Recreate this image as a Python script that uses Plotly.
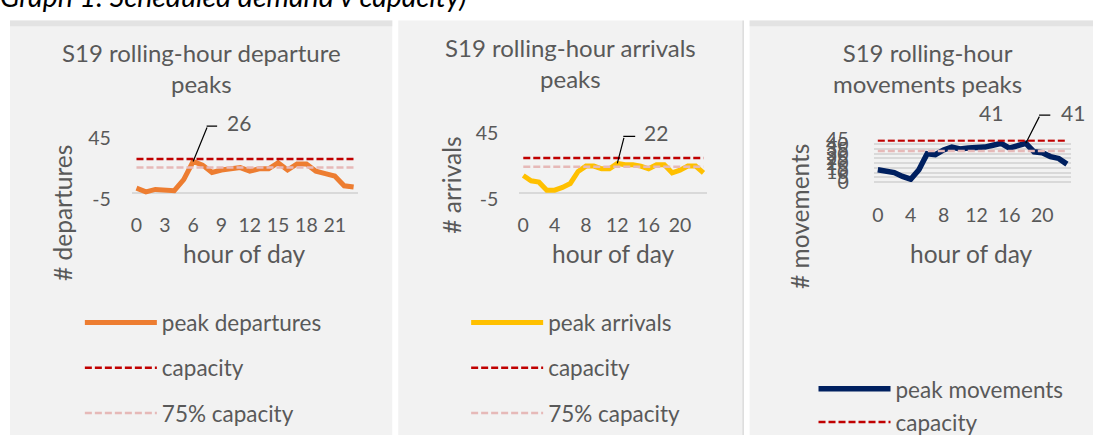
import plotly.graph_objects as go

# ---- data -------------------------------------------------------------
hours = list(range(24))
departures = [4, 1, 3, 3, 2, 11, 26, 23, 17, 19, 20, 21, 18, 20, 20, 25, 19, 24, 24, 18, 16, 14, 6, 5]
arrivals = [13, 9, 8, 2, 2, 4, 7, 16, 20, 20, 18, 18, 22, 21, 21, 20, 18, 21, 21, 15, 17, 20, 20, 15]
movements = [13, 11, 10, 6, 3, 13, 30, 29, 34, 37, 35, 36, 36, 37, 39, 41, 36, 38, 41, 32, 31, 27, 25, 19]
dep_capacity = 28
arr_capacity = 26
mov_capacity = 44
share_75 = 0.75

dep_xticks = [0, 3, 6, 9, 12, 15, 18, 21]
arr_xticks = [0, 4, 8, 12, 16, 20]
mov_xticks = [0, 4, 8, 12, 16, 20]
dep_yticks = [-5, 45]
arr_yticks = [-5, 45]
mov_yticks = [0, 5, 10, 15, 20, 25, 30, 35, 40, 45]

# ---- style ------------------------------------------------------------
W, H = 1093, 446
FONT = "Lato"
GREY_TXT = "#595959"
GRID = "#d9d9d9"
PANEL = "#f2f2f2"
BAND = "#e3e3e3"
ORANGE = "#ED7D31"
GOLD = "#FFC000"
NAVY = "#002060"
RED = "#C00000"
PINK = "#E6B9B8"
DASH = "7px,3px"

TITLE_SZ = 24
AXT_SZ = 24.5
TICK_SZ = 19.5
LEG_SZ = 22.5
LBL_SZ = 21


def px(x):
    return x / W


def py(y):
    return (H - y) / H


fig = go.Figure()


def add_panel(n, values, cap, name, color, width, show75_legend):
    xa = "x" if n == 1 else f"x{n}"
    ya = "y" if n == 1 else f"y{n}"
    leg = "legend" if n == 1 else f"legend{n}"
    fig.add_trace(go.Scatter(
        x=hours, y=values, mode="lines", name=name, xaxis=xa, yaxis=ya,
        legend=leg, legendgroup=f"{n}a",
        line=dict(color=color, width=width), hoverinfo="skip"))
    fig.add_trace(go.Scatter(
        x=hours, y=[cap] * len(hours), mode="lines", name="capacity",
        xaxis=xa, yaxis=ya, legend=leg, legendgroup=f"{n}b",
        line=dict(color=RED, width=2.5, dash=DASH), hoverinfo="skip"))
    fig.add_trace(go.Scatter(
        x=hours, y=[cap * share_75] * len(hours), mode="lines",
        name="75% capacity", xaxis=xa, yaxis=ya, legend=leg,
        legendgroup=f"{n}c", showlegend=show75_legend,
        line=dict(color=PINK, width=2.5, dash=DASH), hoverinfo="skip"))


add_panel(1, departures, dep_capacity, "peak departures", ORANGE, 5, True)
add_panel(2, arrivals, arr_capacity, "peak arrivals", GOLD, 5, True)
add_panel(3, movements, mov_capacity, "peak movements", NAVY, 5.5, False)

# ---- panel backgrounds ------------------------------------------------
shapes = []
panels = [(8, 391, True), (397, 743, False), (749, 1093, True)]
for x0, x1, band in panels:
    shapes.append(dict(type="rect", xref="paper", yref="paper", layer="below",
                       x0=px(x0), x1=px(x1), y0=0, y1=py(9),
                       fillcolor=PANEL, line=dict(width=0)))
    if band:
        shapes.append(dict(type="rect", xref="paper", yref="paper", layer="below",
                           x0=px(x0), x1=px(x1), y0=py(15), y1=py(9),
                           fillcolor=BAND, line=dict(width=0)))
shapes.append(dict(type="line", xref="paper", yref="paper", layer="below",
                   x0=px(742.5), x1=px(742.5), y0=0, y1=py(9),
                   line=dict(color="#d0d0d0", width=1)))

# ---- peak labels with bent leader lines --------------------------------
annotations = []
LEADER = dict(showarrow=True, arrowhead=0, arrowwidth=1.2, arrowcolor="black",
              standoff=0, startstandoff=0, text="")


def peak_labels(n, values, offsets):
    xa = "x" if n == 1 else f"x{n}"
    ya = "y" if n == 1 else f"y{n}"
    top = max(values)
    idx = [i for i, v in enumerate(values) if v == top]
    for i, (dx, dy, lead) in zip(idx, offsets):
        if lead:
            ldx, ldy, hlen = lead
            # slanted part, from the point up to the elbow
            annotations.append(dict(x=hours[i], y=values[i], xref=xa, yref=ya,
                                    ax=ldx, ay=-ldy, **LEADER))
            # short horizontal part, from the elbow towards the label
            annotations.append(dict(x=hours[i], y=values[i], xref=xa, yref=ya,
                                    xshift=ldx - 1, yshift=ldy, ax=hlen + 1, ay=0,
                                    **LEADER))
        annotations.append(dict(
            x=hours[i], y=values[i], xref=xa, yref=ya, text=str(values[i]),
            showarrow=False, xshift=dx, yshift=dy,
            font=dict(family=FONT, size=LBL_SZ, color=GREY_TXT)))


peak_labels(1, departures, [(46, 39, (14.5, 35.4, 11))])
peak_labels(2, arrivals, [(39, 31, (7, 27, 12.4))])
peak_labels(3, movements, [(-10, 31, None), (47, 31, (14.3, 28.2, 11.7))])


# ---- chart titles, axis titles -----------------------------------------
def text(x, y, s, size, angle=0, color=GREY_TXT, style="normal"):
    annotations.append(dict(
        x=px(x), y=py(y), xref="paper", yref="paper", text=s, showarrow=False,
        xanchor="center", yanchor="middle", textangle=angle, align="center",
        font=dict(family=FONT, size=size, color=color, style=style)))


text(232, -17, "Graph 1: Scheduled demand v capacity)", 28.5, color="black", style="italic")
text(199.5, 59, "S19 rolling-hour departure<br>peaks", TITLE_SZ)
text(569.7, 53.5, "S19 rolling-hour arrivals<br>peaks", TITLE_SZ)
text(927, 59, "S19 rolling-hour<br>movements peaks", TITLE_SZ)
text(243, 255, "hour of day", AXT_SZ)
text(612.5, 255, "hour of day", AXT_SZ)
text(971.5, 254.5, "hour of day", AXT_SZ)
text(60, 212, "# departures", AXT_SZ, angle=-90)
text(450, 183, "# arrivals", AXT_SZ, angle=-90)
text(799, 215.5, "# movements", AXT_SZ, angle=-90)

# ---- axes -------------------------------------------------------------
tickfont = dict(family=FONT, size=TICK_SZ, color=GREY_TXT)


def xaxis(x0, x1, anchor, ticks, standoff):
    return dict(domain=[px(x0), px(x1)], anchor=anchor, range=[-0.5, 23.5],
                tickmode="array", tickvals=ticks, ticktext=[str(t) for t in ticks],
                showgrid=False, zeroline=False, showline=False, ticks="",
                tickfont=tickfont, ticklabelstandoff=standoff, fixedrange=True)


def yaxis(ybot, ytop, anchor, rng, ticks, standoff):
    return dict(domain=[py(ybot), py(ytop)], anchor=anchor, range=rng,
                tickmode="array", tickvals=ticks, ticktext=[str(t) for t in ticks],
                showgrid=True, gridcolor=GRID, gridwidth=1.5,
                zeroline=True, zerolinecolor=GRID, zerolinewidth=1.5,
                showline=False, ticks="", tickfont=tickfont,
                ticklabelstandoff=standoff, fixedrange=True)


def legend(x, y, gap):
    return dict(x=px(x), y=py(y), xref="paper", yref="paper",
                xanchor="left", yanchor="top", bgcolor="rgba(0,0,0,0)",
                font=dict(family=FONT, size=LEG_SZ, color=GREY_TXT),
                itemwidth=72, tracegroupgap=gap, traceorder="grouped")


fig.update_layout(
    width=W, height=H, autosize=False,
    margin=dict(l=0, r=0, t=0, b=0, pad=0),
    paper_bgcolor="white", plot_bgcolor=PANEL,
    showlegend=True,
    xaxis=xaxis(130, 357, "y", dep_xticks, 12),
    yaxis=yaxis(197.3, 133.3, "x", [-5, 45], dep_yticks, 20),
    xaxis2=xaxis(518.3, 706.7, "y2", arr_xticks, 12),
    yaxis2=yaxis(197.7, 127.3, "x2", [-5, 45], arr_yticks, 20),
    xaxis3=xaxis(873.3, 1071, "y3", mov_xticks, 19),
    yaxis3=yaxis(179.3, 134.5, "x3", [0, 45], mov_yticks, 24),
    legend=legend(78, 305, 13),
    legend2=legend(465, 305, 13),
    legend3=legend(813, 375, 1),
    shapes=shapes,
    annotations=annotations,
)

fig.write_html("out.html")
